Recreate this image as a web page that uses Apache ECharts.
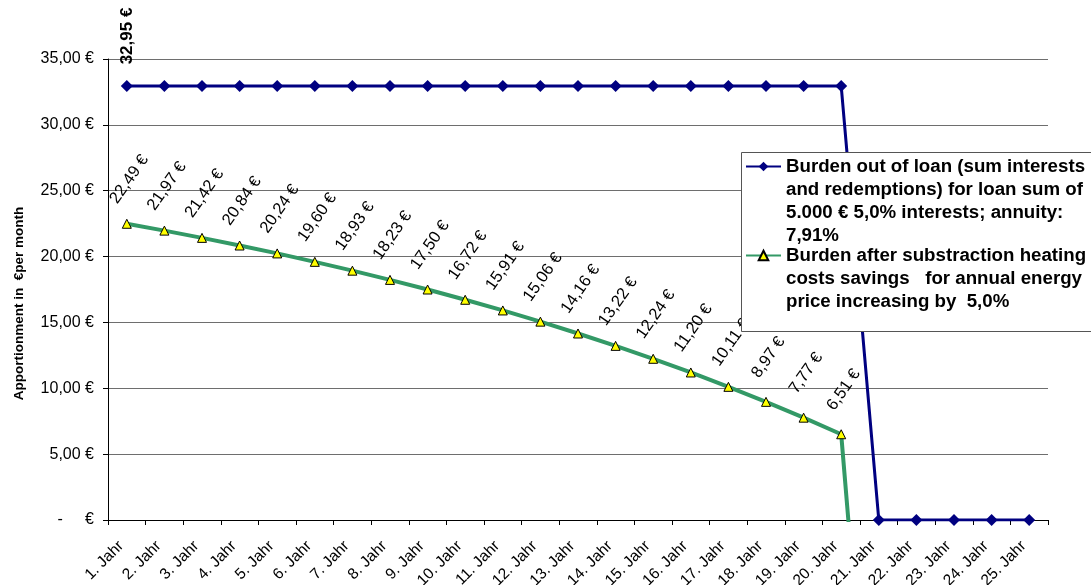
<!DOCTYPE html>
<html>
<head>
<meta charset="utf-8">
<script src="https://cdn.jsdelivr.net/npm/echarts@6/dist/echarts.min.js"></script>
<style>
  html, body { margin: 0; padding: 0; background: #fff; }
  #chart { width: 1091px; height: 585px; }
</style>
</head>
<body>
<div id="chart"></div>
<script>
// Years of the financing period
const years = ['1. Jahr', '2. Jahr', '3. Jahr', '4. Jahr', '5. Jahr', '6. Jahr', '7. Jahr', '8. Jahr', '9. Jahr',
  '10. Jahr', '11. Jahr', '12. Jahr', '13. Jahr', '14. Jahr', '15. Jahr', '16. Jahr', '17. Jahr', '18. Jahr',
  '19. Jahr', '20. Jahr', '21. Jahr', '22. Jahr', '23. Jahr', '24. Jahr', '25. Jahr'];

// Monthly loan burden (interest + redemption), € per month
const loanBurden = [32.95, 32.95, 32.95, 32.95, 32.95, 32.95, 32.95, 32.95, 32.95, 32.95,
  32.95, 32.95, 32.95, 32.95, 32.95, 32.95, 32.95, 32.95, 32.95, 32.95,
  0, 0, 0, 0, 0];

// Monthly burden after heating cost savings, € per month
const netBurden = [22.49, 21.97, 21.42, 20.84, 20.24, 19.60, 18.93, 18.23, 17.50, 16.72,
  15.91, 15.06, 14.16, 13.22, 12.24, 11.20, 10.11, 8.97, 7.77, 6.51,
  -27.76, null, null, null, null];

// Y axis ticks
const yMin = 0, yMax = 35, yStep = 5;

// Legend entries, one array element per text line
const loanLines = ['Burden out of loan (sum interests', 'and redemptions) for loan sum of',
  '5.000 € 5,0% interests; annuity:', '7,91%'];
const netLines = ['Burden after substraction heating', 'costs savings   for annual energy',
  'price increasing by  5,0%'];

const loanName = loanLines.join(' ');
const netName = netLines.join(' ');

const FONT = '"Liberation Sans", Arial, sans-serif';
const euro = v => v.toFixed(2).replace('.', ',') + ' €';

const LH = 23; // legend line height

// Legend text is centred on its key; leading blank lines put the first
// text line level with the key symbol.
const legendText = lines => '\n'.repeat(lines.length - 1) + lines.join('\n');

const chart = echarts.init(document.getElementById('chart'), null, { renderer: 'canvas' });

chart.setOption({
  animation: false,
  backgroundColor: '#ffffff',
  textStyle: { fontFamily: FONT },
  grid: { left: 108, right: 43, top: 59, bottom: 65, containLabel: false, outerBoundsMode: 'none' },
  xAxis: {
    type: 'category',
    data: years,
    boundaryGap: true,
    axisLine: { lineStyle: { color: '#000', width: 1 } },
    axisTick: { show: true, length: 5, alignWithLabel: false, lineStyle: { color: '#000' } },
    axisLabel: {
      rotate: 45, margin: 18, fontSize: 15.5, color: '#000', fontFamily: FONT, interval: 0,
      padding: [0, 8, 0, 0]
    },
    splitLine: { show: false }
  },
  yAxis: {
    type: 'value',
    min: yMin, max: yMax, interval: yStep,
    name: 'Apportionment in  €per month',
    nameLocation: 'middle',
    nameGap: 82,
    nameRotate: 90,
    nameTextStyle: { fontSize: 13.5, fontWeight: 'bold', color: '#000', fontFamily: FONT, padding: [0, 28, 0, 0] },
    axisLine: { show: true, lineStyle: { color: '#000', width: 1 } },
    axisTick: { show: true, length: 5, lineStyle: { color: '#000' } },
    axisLabel: {
      margin: 14, fontSize: 16, color: '#000', fontFamily: FONT,
      formatter: v => (v === 0 ? '-     €' : euro(v))
    },
    splitLine: { show: true, lineStyle: { color: '#6e6e6e', width: 1 } }
  },
  legend: {
    orient: 'vertical',
    left: 740,
    top: 86,
    padding: [0, 0, 0, 5],
    itemWidth: 35,
    itemHeight: 12,
    itemGap: -2 * LH - 3,
    z: 20,
    selectedMode: false,
    data: [loanName, netName],
    formatter: name => (name === loanName ? legendText(loanLines) : legendText(netLines)),
    textStyle: { fontSize: 18.7, fontWeight: 'bold', color: '#000', fontFamily: FONT, lineHeight: LH }
  },
  graphic: [{
    type: 'rect',
    z: 10,
    shape: { x: 741.5, y: 152.5, width: 400, height: 179 },
    style: { fill: '#fff', stroke: '#555', lineWidth: 1 }
  }],
  series: [
    {
      name: loanName,
      type: 'line',
      z: 3,
      data: loanBurden.map((v, i) => (i === 0 ? {
        value: v,
        label: {
          show: true, rotate: 90, position: [7, -44], align: 'center', verticalAlign: 'middle',
          fontSize: 17, fontWeight: 'bold', color: '#000', fontFamily: FONT,
          formatter: p => euro(p.value)
        }
      } : v)),
      symbol: 'diamond',
      symbolSize: 12,
      lineStyle: { color: '#000080', width: 3 },
      itemStyle: { color: '#000080', borderWidth: 0 }
    },
    {
      name: netName,
      type: 'line',
      z: 2,
      data: netBurden.map(v => (v !== null && v < 0 ? { value: v, label: { show: false } } : v)),
      symbol: 'triangle',
      symbolSize: 9,
      lineStyle: { color: '#339966', width: 4 },
      itemStyle: { color: '#ffff00', borderColor: '#000', borderWidth: 1 },
      label: {
        show: true, rotate: 55, position: [7.5, -39.5], align: 'center', verticalAlign: 'middle',
        fontSize: 16.5, color: '#000', fontFamily: FONT,
        formatter: p => euro(p.value)
      }
    }
  ]
});
</script>
</body>
</html>
